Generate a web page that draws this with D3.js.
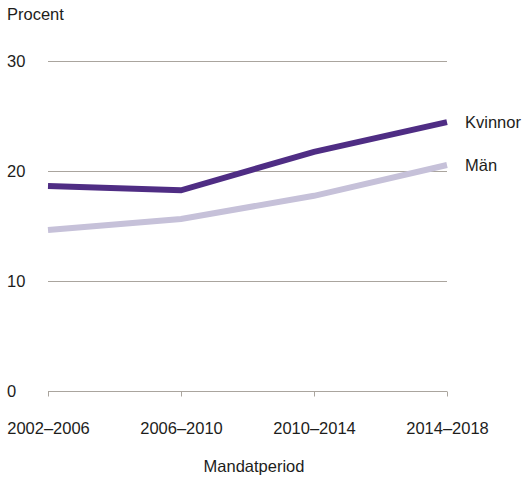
<!DOCTYPE html>
<html>
<head>
<meta charset="utf-8">
<script src="https://cdn.jsdelivr.net/npm/d3@7"></script>
<style>
  body { margin: 0; background: #fff; }
  text { font-family: "Liberation Sans", Arial, sans-serif; fill: #1d1d1b; }
</style>
</head>
<body>
<div id="chart"></div>
<script>
// data
const periods = ["2002–2006", "2006–2010", "2010–2014", "2014–2018"];
const kvinnor = [18.6, 18.2, 21.7, 24.4];
const man = [14.6, 15.6, 17.7, 20.5];
const yTicks = [0, 10, 20, 30];

const series = [
  { name: "Kvinnor", values: kvinnor, color: "#4f2d84" },
  { name: "Män", values: man, color: "#c6c1d9" }
];

const W = 524, H = 479;
const fs = "16.5px";
const svg = d3.select("#chart").append("svg")
  .attr("width", W).attr("height", H);

// scales
const xs = d3.scalePoint().domain(periods).range([48, 447]);
const ys = d3.scaleLinear().domain([0, 30]).range([390.5, 60.5]);

// gridlines
svg.append("g").selectAll("line")
  .data(yTicks.filter(d => d > 0))
  .enter().append("line")
  .attr("x1", 48).attr("x2", 447)
  .attr("y1", d => Math.round(ys(d)) + 0.5)
  .attr("y2", d => Math.round(ys(d)) + 0.5)
  .attr("stroke", "#aaa59e").attr("stroke-width", 1);

// y labels
svg.append("g").selectAll("text")
  .data(yTicks)
  .enter().append("text")
  .attr("x", 7)
  .attr("y", d => ys(d) + 6)
  .style("font-size", fs)
  .text(d => d);

// x axis
const xAxis = svg.append("g")
  .attr("transform", `translate(0,${Math.round(ys(0)) + 0.5})`)
  .call(d3.axisBottom(xs).tickSize(5).tickPadding(26));
xAxis.select(".domain").attr("stroke", "#aaa59e").attr("d", "M48,0H447");
xAxis.selectAll(".tick line").attr("stroke", "#aaa59e");
xAxis.selectAll(".tick text")
  .style("font-size", fs)
  .style("font-family", "Liberation Sans, Arial, sans-serif")
  .attr("fill", "#1d1d1b");

// lines
const line = d3.line()
  .x((d, i) => xs(periods[i]))
  .y(d => ys(d));

svg.selectAll(".series")
  .data(series.slice().reverse())
  .enter().append("path")
  .attr("class", "series")
  .attr("fill", "none")
  .attr("stroke", d => d.color)
  .attr("stroke-width", 6)
  .attr("d", d => line(d.values));

// series labels
svg.selectAll(".lbl")
  .data(series)
  .enter().append("text")
  .attr("class", "lbl")
  .attr("x", 465)
  .attr("y", d => ys(d.values[d.values.length - 1]) + 6)
  .style("font-size", fs)
  .text(d => d.name);

// titles
svg.append("text")
  .attr("x", 7).attr("y", 20)
  .style("font-size", fs)
  .text("Procent");

svg.append("text")
  .attr("x", 254).attr("y", 472)
  .attr("text-anchor", "middle")
  .style("font-size", fs)
  .text("Mandatperiod");
</script>
</body>
</html>
